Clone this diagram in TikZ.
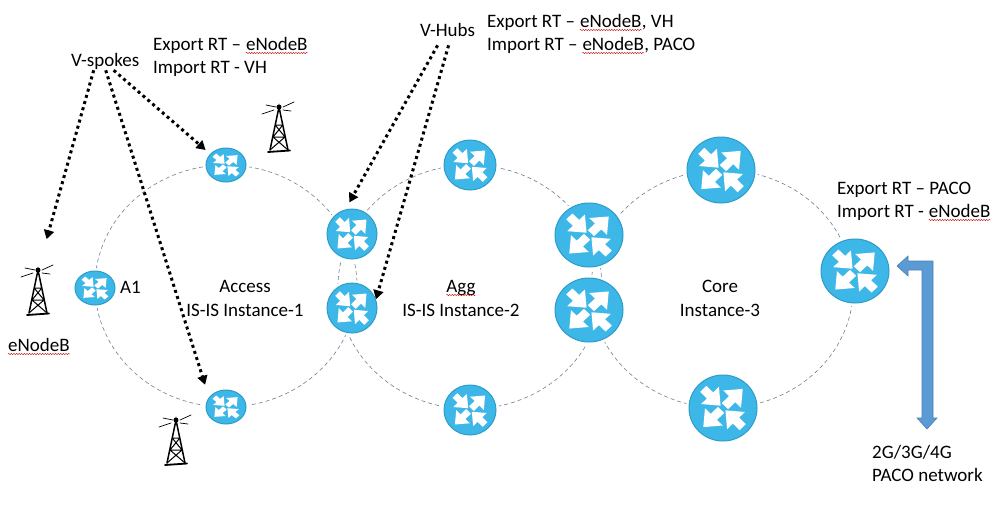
\documentclass[tikz,border=0pt]{standalone}
\usepackage{fontspec}
\setmainfont{Carlito}
\usetikzlibrary{positioning,arrows.meta,decorations.pathmorphing,shapes.geometric}
\definecolor{routerblue}{HTML}{3DB7E8}
\definecolor{routeredge}{HTML}{2C9CC8}
\definecolor{ringgray}{HTML}{6E7F92}
\definecolor{paco}{HTML}{5B9BD5}
\definecolor{pacoedge}{HTML}{4A7FAF}
\tikzset{
  router/.style={ellipse,draw=routeredge,fill=routerblue,line width=1pt,inner sep=0pt},
  ring/.style={draw=ringgray,line width=0.6pt,dash pattern=on 4pt off 3pt},
  lbl/.style={inner sep=0pt,anchor=base west,font=\fontsize{19}{19}\selectfont},
  spoke/.style={line width=3pt,dash pattern=on 3pt off 3.4pt,-{Triangle[length=9pt,width=10pt]}},
  spell/.style={draw=red!75!black,line width=0.4pt,decorate,decoration={snake,amplitude=0.6pt,segment length=2.6pt}},
}
% router: name, position, x radius, y radius
\newcommand{\router}[4]{
  \fill[white] (#2) ellipse [x radius=#3+3,y radius=#4+3];
  \node[router,minimum width=2*#3 pt,minimum height=2*#4 pt] (#1) at (#2) {};
  % arrows going out
  \foreach \ang in {45,225}
    \fill[white,shift={(#1.center)},xscale=#3,yscale=#4,rotate=\ang]
      (0.82,0) -- (0.38,0.37) -- (0.38,0.13) -- (0.08,0.13) -- (0.08,-0.13) -- (0.38,-0.13) -- (0.38,-0.37) -- cycle;
  % arrows going in
  \foreach \ang in {135,315}
    \fill[white,shift={(#1.center)},xscale=#3,yscale=#4,rotate=\ang]
      (0.1,0) -- (0.54,0.37) -- (0.54,0.13) -- (0.82,0.13) -- (0.82,-0.13) -- (0.54,-0.13) -- (0.54,-0.37) -- cycle;
}
% radio tower: name, position of the top
\newcommand{\tower}[2]{
  \coordinate (#1) at (#2);
  \begin{scope}[shift={(#2)},line cap=round]
    \draw[line width=1.5pt] (-9,43) -- (0,0) -- (9,43);
    \draw[line width=1.8pt] (-11,45) -- (11,43.5);
    \draw[line width=1pt] (-3.8,18) -- (3.8,18) (-6,30) -- (6,30) (-3.8,18) -- (6,30) (3.8,18) -- (-6,30)
      (-6,30) -- (9,43) (6,30) -- (-9,43);
    \fill (0,0) circle (2.5pt);
    \draw[line width=0.7pt] (-13,-2) -- (-3,0) (-17,7) -- (-5,3) (4,0) -- (15,-5) (4,3) -- (12,4);
  \end{scope}
}
\begin{document}
\begin{tikzpicture}[x=1pt,y=-1pt]
  \useasboundingbox (0,0) rectangle (999,523);

  % Rings
  \draw[ring] (226,286) ellipse [x radius=131,y radius=121];
  \draw[ring] (470,287) ellipse [x radius=132,y radius=122];
  \draw[ring] (722,289) ellipse [x radius=131,y radius=119];

  % Routers
  \router{spoketop}{226,165}{20}{17}
  \router{spokebot}{226,407}{20}{17}
  \router{aone}{95,288}{20}{17}
  \router{hubtop}{352,234}{25}{25}
  \router{hubbot}{352,308}{25}{25}
  \router{aggtop}{470,165}{26}{25}
  \router{aggbot}{470,410}{26}{25}
  \router{bigtop}{589,235}{34}{32}
  \router{bigbot}{589,310}{34}{32}
  \router{coretop}{721,170}{34}{33}
  \router{corebot}{723,408}{34}{33}
  \router{coreright}{855,271}{34}{32}

  % Towers
  \tower{towertop}{279,107}
  \tower{towerleft}{38,270}
  \tower{towerbot}{176,420}

  % Labels
  \node[lbl] (vspokes) at (71,66) {V-spokes};
  \node[lbl] (vspexp) at (153,50) {Export RT --};
  \node[lbl,base right=4.5pt of vspexp] (vspenb) {eNodeB};
  \node[lbl] (vspimp) at (153,73) {Import RT - VH};

  \node[lbl] (vhubs) at (420,36) {V-Hubs};
  \node[lbl] (vhexp) at (487,27) {Export RT --};
  \node[lbl,base right=4.5pt of vhexp] (vhenb) {eNodeB};
  \node[lbl,base right=0pt of vhenb] (vhexpb) {, VH};
  \node[lbl] (vhimp) at (487,50) {Import RT --};
  \node[lbl,base right=4.5pt of vhimp] (vhenc) {eNodeB};
  \node[lbl,base right=0pt of vhenc] (vhimpb) {, PACO};

  \node[lbl] (pcexp) at (837,194) {Export RT -- PACO};
  \node[lbl] (pcimp) at (837,217) {Import RT -};
  \node[lbl,base right=4.5pt of pcimp] (pcenb) {eNodeB};

  \node[lbl] (aonelbl) at (120,293) {A1};
  \node[lbl] (enb) at (8,351) {eNodeB};

  \node[lbl,anchor=base] (access) at (245,292) {Access};
  \node[lbl,anchor=base] (inst1) at (245,316) {IS-IS Instance-1};
  \node[lbl,anchor=base] (agg) at (461,292) {Agg};
  \node[lbl,anchor=base] (inst2) at (461,316) {IS-IS Instance-2};
  \node[lbl,anchor=base] (core) at (720,292) {Core};
  \node[lbl,anchor=base] (inst3) at (720,316) {Instance-3};

  \node[lbl] (pacoa) at (872,458) {2G/3G/4G};
  \node[lbl] (pacob) at (872,481) {PACO network};

  % Spell check marks
  \foreach \wrd in {vspenb,vhenb,vhenc,pcenb,enb}
    \draw[spell] ([yshift=-3pt]\wrd.base west) -- ([yshift=-3pt]\wrd.base east);
  \draw[spell] ([yshift=-3pt]agg.base west) -- ([yshift=-3pt]agg.base east);

  % Dotted arrows
  \draw[spoke,shorten >=32pt] ([shift={(-11.5pt,-1pt)}]vspokes.south) -- (towerleft);
  \draw[spoke,shorten >=13pt] ([shift={(0.5pt,-1pt)}]vspokes.south) -- (spokebot.150);
  \draw[spoke,shorten >=6pt] ([shift={(8.5pt,-1pt)}]vspokes.south) -- (spoketop.145);
  \draw[spoke,shorten >=8pt] ([shift={(-10pt,-9pt)}]vhubs.south) -- (hubtop.105);
  \draw[spoke] ([shift={(1pt,-9pt)}]vhubs.south) -- (hubbot.20);

  % PACO arrow
  \draw[fill=paco,draw=pacoedge,line width=0.6pt] (897,266) -- (908,256) -- (908,261) -- (933,261) -- (933,418) -- (937,418)
    -- (927,429) -- (917,418) -- (922,418) -- (922,270) -- (908,270) -- (908,276) -- cycle;
\end{tikzpicture}
\end{document}
